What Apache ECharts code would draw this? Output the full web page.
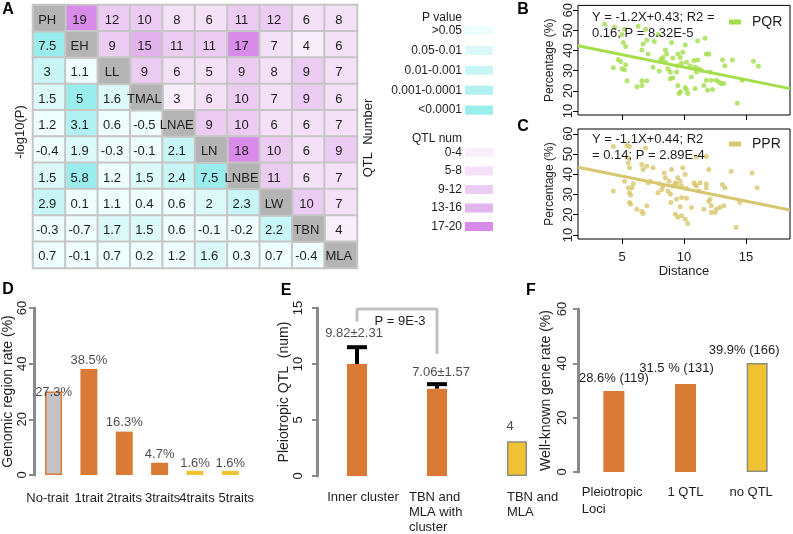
<!DOCTYPE html>
<html><head><meta charset="utf-8">
<script src="https://cdn.jsdelivr.net/npm/echarts@6/dist/echarts.min.js"></script>
<style>html,body{margin:0;padding:0;background:#fff}#c{width:793px;height:534px}</style>
</head><body><div id="c"></div>
<script>
// ---------- DATA ----------
const traits = ['PH','EH','LL','TMAL','LNAE','LN','LNBE','LW','TBN','MLA'];
// upper triangle = QTL number, lower triangle = -log10(P), diagonal = trait
const matrix = [
 [null,19,12,10,8,6,11,12,6,8],
 [7.5,null,9,15,11,11,17,7,4,6],
 [3,1.1,null,9,6,5,9,8,9,7],
 [1.5,5,1.6,null,3,6,10,7,9,6],
 [1.2,3.1,0.6,-0.5,null,9,10,6,6,7],
 [-0.4,1.9,-0.3,-0.1,2.1,null,18,10,6,9],
 [1.5,5.8,1.2,1.5,2.4,7.5,null,11,6,7],
 [2.9,0.1,1.1,0.4,0.6,2,2.3,null,10,7],
 [-0.3,-0.7,1.7,1.5,0.6,-0.1,-0.2,2.2,null,4],
 [0.7,-0.1,0.7,0.2,1.2,1.6,0.3,0.7,-0.4,null]
];
const pLegend = ['>0.05','0.05-0.01','0.01-0.001','0.001-0.0001','<0.0001'];
const pBreaks = [1.3, 2, 3, 4];
const qtlLegend = ['0-4','5-8','9-12','13-16','17-20'];
const qtlBreaks = [[0,4],[5,8],[9,12],[13,16],[17,20]];

const pqrPoints = [[3.6,53],[4.3,31.5],[4.4,51.5],[4.7,35.5],[4.9,34.5],[5.0,48],[5.1,44],[5.3,42],[5.0,31],[5.2,30.5],[5.3,33],[5.4,25],[5.2,50.5],
 [6.2,22],[6.6,22.7],[6.6,25],[7.0,25],[6.6,40.2],[6.7,43.2],[7.0,45.1],[6.9,50.5],[6.3,52],
 [7.1,38.3],[7.5,31.7],[8.0,29.8],[7.6,44.5],[7.9,48],
 [8.1,35],[8.2,35.8],[8.3,36.6],[8.5,34.2],[8.5,40.2],[8.6,38.3],[8.7,30.9],[8.9,29.3],[9.0,44],[9.1,36.3],[8.9,26],
 [9.4,29.3],[9.5,22.7],[9.6,18.7],[9.7,19.5],[9.5,38.3],[9.7,36.6],[9.5,32.5],[9.8,33.7],[9.1,26.5],[9.9,39.1],
 [10.1,21.6],[10.2,20.6],[10.3,18.7],[10.2,34.2],[10.5,32.5],[10.6,26.8],[10.1,42.7],[10.8,35],[10.9,21.1],[11.0,29.3],[10.9,31.7],
 [11.1,44.8],[11.1,35.3],[11.2,30.9],[11.4,30.1],[11.6,22.7],[11.7,46.1],[11.8,38.3],[12.0,38.3],[11.8,25.2],[11.9,20.3],[12.1,29.3],
 [12.2,25.2],[12.3,20.6],[12.6,25.2],[12.8,24.4],[13.0,23.6],
 [13.2,23.6],[13.1,35.3],[13.3,32.5],[13.9,35.3],[14.7,25.2],[14.3,13.8],[15.6,34.7],[16.0,32.2]];
const pqrLine = [[1.45,42.4],[18.55,21.1]];
const pprPoints = [[4.3,53.8],[4.3,31.7],[5.4,54.3],[5.6,53.8],[5.5,48.1],[5.5,45.6],[5.6,43.2],[5.2,36.6],[5.9,35.3],[5.8,33.4],[5.5,33.4],[5.6,30.9],[5.7,29.8],[5.6,26],[5.7,25.2],
 [6.2,22.7],[6.6,21.6],[6.7,20.6],[7.0,24.4],[6.9,53],[6.6,44.8],[6.7,42.4],[7.0,44],[7.1,35.8],[7.3,36.6],[7.5,43.2],
 [8.0,35.3],[7.9,30.9],[8.2,32.5],[8.3,34.2],[8.4,40.7],[8.5,38.3],[8.7,31.7],[8.8,36.6],[8.9,30.1],[9.1,34.2],[9.0,42.4],[9.3,35.8],[9.4,35],[9.5,38.3],[9.7,36.6],[9.8,34.2],[9.9,43.2],[10.1,39.9],[10.2,33],
 [8.95,26],[9.4,27.6],[9.3,20.3],[9.5,18.7],[9.8,19.5],[9.8,28.5],[9.7,23.9],[10.2,28.1],[10.1,17.8],[10.3,15.7],[10.6,23.6],
 [10.8,35.8],[10.9,35],[11.0,34.2],[11.2,31.7],[11.3,35.8],[11.6,22.7],[11.0,48.5],[11.8,48.8],[11.8,35.3],[11.8,33.4],[12.0,42.4],[12.0,26.5],[12.1,27.6],[12.2,24.4],[12.2,21.1],[12.5,21.1],[12.6,22.7],[12.9,23.6],[13.2,24.4],[13.1,35],[13.3,33.4],[13.8,41.5],[14.5,26],[14.2,13.8],[15.5,40.7],[15.9,33.4]];
const pprLine = [[1.45,43.5],[18.55,22.3]];

const dCats = ['No-trait','1trait','2traits','3traits','4traits','5traits'];
const dBars = [30.0, 38.1, 15.6, 4.4, 1.5, 1.5];
const dLabelVals = [27.3, 38.5, 16.3, 4.7, 1.6, 1.6];
const dLabels = ['27.3%','38.5%','16.3%','4.7%','1.6%','1.6%'];

const eCats = ['Inner cluster','TBN and\nMLA with\ncluster','TBN and\nMLA'];
const eBars = [10.0, 7.8, 3.1];
const eErrTop = [11.5, 8.2];
const eMean = [9.82, 7.06, 4];
const eSD = [2.31, 1.57, 0];
const eLabels = ['9.82±2.31','7.06±1.57','4'];
const eBracket = [[0,13.8],[0,14.9],[1,14.9],[1,10.9]];

const fCats = ['Pleiotropic\nLoci','1 QTL','no QTL'];
const fBars = [29.8, 32.4, 40.1];
const fLabels = ['28.6% (119)','31.5 % (131)','39.9% (166)'];

// ---------- STYLE ----------
const FF = '"Liberation Sans", Arial, Helvetica, sans-serif';
const orange = '#d97a36', yellow = '#f1c232', green = '#a3df4c', khaki = '#d8c76e';
const pColors = ['#eefdfd','#dcf9f9','#c8f5f5','#b2f1f1','#9aeded'];
const qColors = ['#f9eefb','#f4e0f7','#ecccf2','#e3b3ee','#d98be9'];
const txt = '#1e1e1e';
const fLabelOffset = [[0,0],[-9,-3],[-13,0]];
const eLabelOffset = [[-3,0],[4,0],[-7,2]];
const dLabelPad = [[0,12,0,0],[0,0,0,0],[0,0,0,0],[0,0,0,6],[0,0,0,4],[0,0,0,12]];

// ---------- BUILD ----------
const lower = [], upper = [], diag = [];
matrix.forEach((row, i) => row.forEach((v, j) => {
  if (i === j) diag.push([j, i, 0]);
  else if (j < i) lower.push([j, i, v]);
  else upper.push([j, i, v]);
}));
const cellLabel = {show:true, fontSize:13, color:txt, fontFamily:FF, offset:[-2,2], formatter: p => String(p.value[2])};

const pPieces = pLegend.map((l, k) => {
  const pc = {label:l, color:pColors[k]};
  if (k > 0) pc.gt = pBreaks[k-1];
  if (k < pBreaks.length) pc.lte = pBreaks[k];
  return pc;
});
const qPieces = qtlLegend.map((l, k) => ({label:l, min:qtlBreaks[k][0], max:qtlBreaks[k][1], color:qColors[k]}));

const vmCommon = {type:'piecewise', orient:'vertical', inverse:true, right:300, itemWidth:28, itemHeight:9,
  textGap:3, padding:0, align:'right', showLabel:true, selectedMode:false, itemSymbol:'rect', dimension:2,
  textStyle:{fontSize:12, color:txt, fontFamily:FF}};

function valAxisBox(grid, name) {
  return {gridIndex:grid, type:'value', min:8, max:62.4, splitLine:{show:false}, axisLine:{show:false},
    axisTick:{customValues:[10,20,30,40,50,60], length:5, lineStyle:{color:'#000'}},
    axisLabel:{customValues:[10,20,30,40,50,60], rotate:90, margin:3, fontSize:13, color:txt},
    name:name, nameLocation:'middle', nameRotate:90, nameGap:22, nameTextStyle:{fontSize:12, color:txt}};
}
function barYAxis(grid, max, interval, name, margin, gap) {
  return {gridIndex:grid, type:'value', min:0, max:max, interval:interval, offset: grid===3?2:0,
    splitLine:{show:false}, axisLine:{show:true, lineStyle:{color:'#8a8a8a', width:3}},
    axisTick:{show:true, length:5, lineStyle:{color:'#8a8a8a', width:2}},
    axisLabel:{rotate:90, margin:margin, fontSize:13, color:txt},
    name:name, nameLocation:'middle', nameRotate:90, nameGap:gap, nameTextStyle:{fontSize:14, color:txt}};
}
const dRich = {};
dLabelPad.forEach((p,i)=>{ dRich['d'+i] = {fontSize:13, lineHeight:15, padding:p, color:txt}; });

const option = {
  animation:false,
  textStyle:{fontFamily:FF},
  grid:[
    {left:33, top:5, width:324, height:263},
    {left:578, top:5, width:212, height:110, show:true, borderColor:'#000', borderWidth:1},
    {left:578, top:129, width:212, height:110, show:true, borderColor:'#000', borderWidth:1},
    {left:35, top:308, width:213, height:167},
    {left:317, top:308, width:240, height:169},
    {left:578, top:309, width:234, height:163}
  ],
  xAxis:[
    {gridIndex:0, type:'category', data:traits, show:false},
    {gridIndex:1, type:'value', min:1.45, max:18.55, splitLine:{show:false}, axisLine:{show:false},
      axisTick:{customValues:[5,10,15], length:5, lineStyle:{color:'#000'}}, axisLabel:{show:false}},
    {gridIndex:2, type:'value', min:1.45, max:18.55, splitLine:{show:false}, axisLine:{show:false},
      axisTick:{customValues:[5,10,15], length:5, lineStyle:{color:'#000'}},
      axisLabel:{customValues:[5,10,15], fontSize:13, color:txt, margin:12},
      name:'Distance', nameLocation:'middle', nameGap:22, nameTextStyle:{fontSize:13, color:txt}},
    {gridIndex:3, type:'category', data:dCats, axisLine:{show:false}, axisTick:{show:false},
      axisLabel:{interval:0, color:txt, margin:16, formatter:(v,i)=>'{d'+i+'|'+v+'}', rich:dRich}},
    {gridIndex:4, type:'category', data:eCats, axisLine:{show:false}, axisTick:{show:false},
      axisLabel:{interval:0, margin:14, color:txt,
        formatter:(v,i)=>v.split('\n').map(l=>'{t'+i+'|'+l+'}').join('\n'),
        rich:{t0:{fontSize:13, lineHeight:15, padding:[0,0,0,12], color:txt},
              t1:{fontSize:13, lineHeight:15, width:56, align:'left', color:txt},
              t2:{fontSize:13, lineHeight:15, width:52, align:'left', padding:[0,0,0,32], color:txt}}}},
    {gridIndex:5, type:'category', data:fCats, axisLine:{show:false}, axisTick:{show:false},
      axisLabel:{interval:0, margin:12, color:txt,
        formatter:(v,i)=>v.split('\n').map(l=>'{f'+i+'|'+l+'}').join('\n'),
        rich:{f0:{fontSize:13, lineHeight:17, width:64, align:'left', color:txt},
              f1:{fontSize:13, lineHeight:17, color:txt},
              f2:{fontSize:13, lineHeight:17, padding:[0,12,0,0], color:txt}}}}
  ],
  yAxis:[
    {gridIndex:0, type:'category', data:traits, inverse:true, show:false},
    valAxisBox(1, 'Percentage (%)'),
    valAxisBox(2, 'Percentage (%)'),
    barYAxis(3, 60, 20, 'Genomic region rate (%)', 5, 12),
    barYAxis(4, 15, 5, 'Pleiotropic QTL  (num)', 12, 14),
    barYAxis(5, 60, 20, 'Well-known gene rate (%)', 9, 25)
  ],
  visualMap:[
    Object.assign({}, vmCommon, {seriesIndex:0, top:24.5, itemGap:7.9, pieces:pPieces}),
    Object.assign({}, vmCommon, {seriesIndex:1, top:146.5, itemGap:6.5, pieces:qPieces}),
    {type:'continuous', show:false, seriesIndex:2, min:0, max:1, dimension:2, inRange:{color:['#b4b4b4','#b4b4b4']}}
  ],
  legend:[
    {data:['PQR'], left:729, top:15, padding:0, icon:'rect', itemWidth:12, itemHeight:5, selectedMode:false,
      textStyle:{fontSize:14, color:txt, padding:[0,0,0,6]}},
    {data:['PPR'], left:729, top:137, padding:0, icon:'rect', itemWidth:12, itemHeight:5, selectedMode:false,
      textStyle:{fontSize:14, color:txt, padding:[0,0,0,6]}}
  ],
  series:[
    {type:'heatmap', xAxisIndex:0, yAxisIndex:0, data:lower, label:cellLabel,
      itemStyle:{borderColor:'#c6c6c6', borderWidth:2}},
    {type:'heatmap', xAxisIndex:0, yAxisIndex:0, data:upper, label:cellLabel,
      itemStyle:{borderColor:'#c6c6c6', borderWidth:2}},
    {type:'heatmap', xAxisIndex:0, yAxisIndex:0, data:diag,
      label:Object.assign({}, cellLabel, {formatter: p => traits[p.value[0]]}),
      itemStyle:{borderColor:'#c6c6c6', borderWidth:2}},
    {type:'scatter', name:'pqr-pts', xAxisIndex:1, yAxisIndex:1, data:pqrPoints, symbolSize:5, itemStyle:{color:green}},
    {type:'line', name:'PQR', xAxisIndex:1, yAxisIndex:1, data:pqrLine, showSymbol:false, color:green, lineStyle:{width:3, color:green}},
    {type:'scatter', name:'ppr-pts', xAxisIndex:2, yAxisIndex:2, data:pprPoints, symbolSize:5, itemStyle:{color:khaki}},
    {type:'line', name:'PPR', xAxisIndex:2, yAxisIndex:2, data:pprLine, showSymbol:false, color:khaki, lineStyle:{width:3, color:khaki}},
    {type:'bar', xAxisIndex:3, yAxisIndex:3, barWidth:17,
      data:dBars.map((v,i)=>({value:v, itemStyle: i===0 ? {color:'#c3c3c3', borderColor:orange, borderWidth:1.5} : {color: i>=4 ? yellow : orange}}))},
    {type:'scatter', xAxisIndex:3, yAxisIndex:3, symbolSize:1, z:6, itemStyle:{color:'rgba(0,0,0,0)'},
      data:dLabelVals.map((v,i)=>[i,v]),
      label:{show:true, position:'top', distance:0, fontSize:13, color:txt, formatter:p=>dLabels[p.dataIndex]}},
    {type:'bar', xAxisIndex:4, yAxisIndex:4, barWidth:20,
      data:eBars.map((v,i)=>({value:v, itemStyle: i===2 ? {color:yellow, borderColor:'#8d8d7c', borderWidth:1.5} : {color:orange}}))},
    {type:'custom', xAxisIndex:4, yAxisIndex:4, z:5,
      data:eErrTop.map((t,i)=>[i, eBars[i], t]),
      renderItem:(params, api)=>{
        const lo = api.coord([api.value(0), api.value(1)]);
        const hi = api.coord([api.value(0), api.value(2)]);
        return {type:'group', children:[
          {type:'line', shape:{x1:lo[0], y1:lo[1], x2:hi[0], y2:hi[1]}, style:{stroke:'#000', lineWidth:4}},
          {type:'line', shape:{x1:hi[0]-10, y1:hi[1], x2:hi[0]+10, y2:hi[1]}, style:{stroke:'#000', lineWidth:4}}
        ]};
      }},
    {type:'line', xAxisIndex:4, yAxisIndex:4, data:eBracket, showSymbol:false, z:4,
      lineStyle:{color:'#c2c2c2', width:3}, itemStyle:{color:'#c2c2c2'}},
    {type:'scatter', xAxisIndex:4, yAxisIndex:4, symbolSize:1, z:6, itemStyle:{color:'rgba(0,0,0,0)'},
      data:eMean.map((m,i)=>({value:[i, m + eSD[i]], label:{offset:eLabelOffset[i]}})),
      label:{show:true, position:'top', distance:0, fontSize:13, color:txt, formatter:p=>eLabels[p.dataIndex]}},
    {type:'bar', xAxisIndex:5, yAxisIndex:5, barWidth:21,
      data:fBars.map((v,i)=>({value:v, itemStyle: i===2 ? {color:yellow, borderColor:'#8d8d7c', borderWidth:1.5} : {color:orange},
        label:{offset:fLabelOffset[i]}})),
      label:{show:true, position:'top', distance:6, fontSize:13, color:txt, formatter:p=>fLabels[p.dataIndex]}}
  ],
  graphic:[
    {type:'text', x:8, y:10, style:{text:'A', font:'bold 16px '+FF, fill:'#000', align:'center', verticalAlign:'middle'}},
    {type:'text', x:523, y:10, style:{text:'B', font:'bold 16px '+FF, fill:'#000', align:'center', verticalAlign:'middle'}},
    {type:'text', x:523, y:127, style:{text:'C', font:'bold 16px '+FF, fill:'#000', align:'center', verticalAlign:'middle'}},
    {type:'text', x:8, y:290, style:{text:'D', font:'bold 16px '+FF, fill:'#000', align:'center', verticalAlign:'middle'}},
    {type:'text', x:286, y:291, style:{text:'E', font:'bold 16px '+FF, fill:'#000', align:'center', verticalAlign:'middle'}},
    {type:'text', x:531, y:291, style:{text:'F', font:'bold 16px '+FF, fill:'#000', align:'center', verticalAlign:'middle'}},
    {type:'text', x:20, y:132, rotation:Math.PI/2, style:{text:'-log10(P)', font:'13px '+FF, fill:txt, align:'center', verticalAlign:'middle'}},
    {type:'text', x:368, y:138, rotation:Math.PI/2, style:{text:'QTL  Number', font:'13px '+FF, fill:txt, align:'center', verticalAlign:'middle'}},
    {type:'text', x:462, y:18, style:{text:'P value', font:'12px '+FF, fill:txt, align:'right', verticalAlign:'middle'}},
    {type:'text', x:462, y:139, style:{text:'QTL num', font:'12px '+FF, fill:txt, align:'right', verticalAlign:'middle'}},
    {type:'text', x:592, y:17, z:10, style:{text:'Y = -1.2X+0.43; R2 =', font:'13px '+FF, fill:txt, align:'left', verticalAlign:'middle'}},
    {type:'text', x:592, y:33, z:10, style:{text:'0.16; P = 8.32E-5', font:'13px '+FF, fill:txt, align:'left', verticalAlign:'middle'}},
    {type:'text', x:592, y:139, z:10, style:{text:'Y = -1.1X+0.44; R2', font:'13px '+FF, fill:txt, align:'left', verticalAlign:'middle'}},
    {type:'text', x:592, y:155, z:10, style:{text:'= 0.14; P = 2.89E-4', font:'13px '+FF, fill:txt, align:'left', verticalAlign:'middle'}},
    {type:'text', x:400, y:321, style:{text:'P = 9E-3', font:'13px '+FF, fill:txt, align:'center', verticalAlign:'middle'}}
  ]
};
const chart = echarts.init(document.getElementById('c'));
chart.setOption(option);
</script>
</body></html>
